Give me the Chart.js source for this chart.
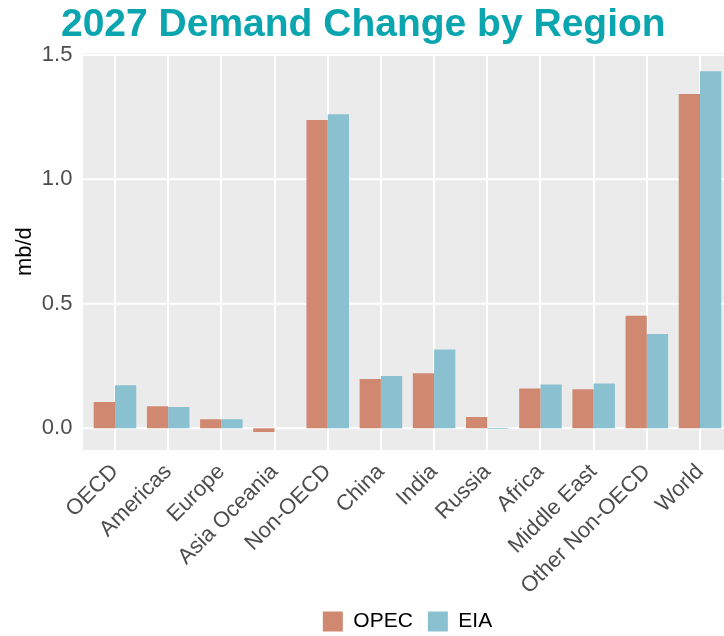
<!DOCTYPE html>
<html>
<head>
<meta charset="utf-8">
<script src="https://cdn.jsdelivr.net/npm/chart.js@4.4.1/dist/chart.umd.min.js"></script>
<style>
  html, body { margin: 0; padding: 0; background: #ffffff; overflow: hidden; }
  #wrap { width: 740px; height: 636px; }
</style>
</head>
<body>
<div id="wrap"><canvas id="c" width="740" height="636" style="width:740px;height:636px;"></canvas></div>
<script>
const categories = ["OECD", "Americas", "Europe", "Asia Oceania", "Non-OECD", "China", "India", "Russia", "Africa", "Middle East", "Other Non-OECD", "World"];
const opecValues = [0.105, 0.088, 0.036, -0.015, 1.238, 0.198, 0.221, 0.045, 0.160, 0.157, 0.452, 1.343];
const eiaValues  = [0.173, 0.085, 0.036, 0.000, 1.262, 0.210, 0.316, -0.003, 0.176, 0.180, 0.379, 1.434];
const yTickValues = [0.0, 0.5, 1.0, 1.5];
const seriesNames = ["OPEC", "EIA"];
const titleText = "2027 Demand Change by Region";
const yAxisTitle = "mb/d";

const FONT = "'Liberation Sans', Arial, Helvetica, sans-serif";

const panelBg = {
  id: 'panelBg',
  beforeDraw(chart) {
    const { ctx, chartArea: a, scales: { x, y } } = chart;
    const unit = x.getPixelForValue(1) - x.getPixelForValue(0);
    const left = a.left - 0.1 * unit;
    const right = a.right + 0.1 * unit;
    ctx.save();
    ctx.fillStyle = '#EBEBEB';
    ctx.fillRect(left, a.top, right - left, a.bottom - a.top);
    ctx.strokeStyle = '#FFFFFF';
    ctx.lineWidth = 2;
    y.ticks.forEach(t => {
      const py = y.getPixelForValue(t.value);
      ctx.beginPath();
      ctx.moveTo(left, py);
      ctx.lineTo(right, py);
      ctx.stroke();
    });
    ctx.restore();
  }
};

new Chart(document.getElementById('c'), {
  type: 'bar',
  data: {
    labels: categories,
    datasets: [
      { label: seriesNames[0], data: opecValues, backgroundColor: '#D08870', borderWidth: 0 },
      { label: seriesNames[1], data: eiaValues, backgroundColor: '#89C1D1', borderWidth: 0 }
    ]
  },
  options: {
    responsive: false,
    animation: false,
    devicePixelRatio: 1,
    layout: { padding: { left: 0, right: 13.4, top: 0, bottom: -6 } },
    datasets: { bar: { categoryPercentage: 0.8, barPercentage: 1.0 } },
    scales: {
      x: {
        offset: true,
        grid: { color: '#FFFFFF', lineWidth: 2, offset: false, drawTicks: false },
        border: { display: false },
        ticks: {
          minRotation: 45, maxRotation: 45, autoSkip: false, padding: 9,
          color: '#4D4D4D', font: { family: FONT, size: 22 }
        },
        afterFit(scale) { scale.height = 146; }
      },
      y: {
        min: -0.0875,
        max: 1.5065,
        afterBuildTicks(scale) { scale.ticks = yTickValues.map(v => ({ value: v })); },
        grid: { display: false, drawTicks: false },
        border: { display: false },
        ticks: {
          padding: 16, color: '#4D4D4D', font: { family: FONT, size: 22 },
          callback: (v) => Number(v).toFixed(1)
        },
        title: {
          display: true, text: yAxisTitle, color: '#000000',
          font: { family: FONT, size: 22 }, padding: { top: 12, bottom: 0 }
        },
        afterFit(scale) { scale.width = 88.4; }
      }
    },
    plugins: {
      title: {
        display: true, text: titleText, color: '#0AA5AE',
        font: { family: FONT, size: 39, weight: 'bold', lineHeight: 1.2 },
        padding: { top: 2, bottom: 4.5 }
      },
      legend: {
        position: 'bottom',
        fullSize: false,
        labels: {
          boxWidth: 20, boxHeight: 20, padding: 15, color: '#000000',
          font: { family: FONT, size: 21 }
        }
      },
      tooltip: { enabled: false }
    }
  },
  plugins: [panelBg]
});
</script>
</body>
</html>
